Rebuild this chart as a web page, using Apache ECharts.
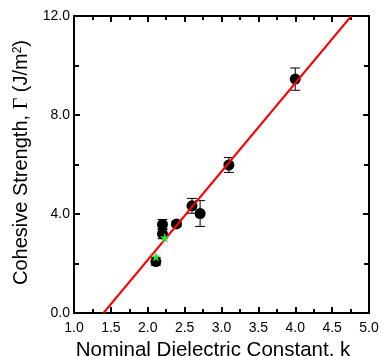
<!DOCTYPE html>
<html>
<head>
<meta charset="utf-8">
<script src="https://cdn.jsdelivr.net/npm/echarts@6/dist/echarts.min.js"></script>
<style>
  html, body { margin: 0; padding: 0; background: #fff; }
  #chart { width: 382px; height: 356px; }
</style>
</head>
<body>
<div id="chart"></div>
<script>
// measured cohesive strength: dielectric constant k, strength, error half-width
const kValues = [2.11, 2.2, 2.2, 2.39, 2.6, 2.71, 3.1, 4.0];
const strength = [2.08, 3.2, 3.58, 3.6, 4.33, 4.02, 5.98, 9.45];
const errHalf = [0.15, 0.2, 0.2, 0.1, 0.3, 0.52, 0.3, 0.45];

// green star markers
const starK = [2.11, 2.23];
const starStrength = [2.28, 3.04];

// linear fit endpoints
const fitK = [1.4, 4.76];
const fitStrength = [0, 12];

const X_TICKS = { min: 1, max: 5, interval: 0.5 };
const Y_TICKS = { min: 0, max: 12, interval: 4 };

const FONT = 'Liberation Sans, Arial, sans-serif';
const STAR = 'path://M50,0 L61,35 L98,35 L68,57 L79,91 L50,70 L21,91 L32,57 L2,35 L39,35 Z';

const chart = echarts.init(document.getElementById('chart'));

const axisCommon = {
  type: 'value',
  axisLine: { show: true, onZero: false, lineStyle: { color: '#000', width: 2 } },
  axisTick: { show: true, inside: true, length: 6, lineStyle: { color: '#000', width: 2 } },
  minorTick: { show: true, splitNumber: 2, length: 5, lineStyle: { color: '#000', width: 2 } },
  splitLine: { show: false },
};

chart.setOption({
  animation: false,
  backgroundColor: '#fff',
  grid: { left: 74, right: 13, top: 16, bottom: 43, containLabel: false, outerBoundsMode: 'none' },
  xAxis: [
    {
      ...axisCommon,
      min: X_TICKS.min, max: X_TICKS.max, interval: X_TICKS.interval,
      position: 'bottom',
      minorTick: { ...axisCommon.minorTick, length: 4 },
      axisLabel: { color: '#000', fontFamily: FONT, fontSize: 14, margin: 8, formatter: v => v.toFixed(1) },
      name: 'Nominal Dielectric Constant, k',
      nameLocation: 'middle',
      nameGap: 25,
      nameTextStyle: { color: '#000', fontFamily: FONT, fontSize: 20.5, padding: [0, 17, 0, 0] },
    },
    {
      ...axisCommon,
      min: X_TICKS.min, max: X_TICKS.max, interval: X_TICKS.interval,
      position: 'top',
      minorTick: { ...axisCommon.minorTick, length: 4 },
      axisLabel: { show: false },
    },
  ],
  yAxis: [
    {
      ...axisCommon,
      min: Y_TICKS.min, max: Y_TICKS.max, interval: Y_TICKS.interval,
      position: 'left',
      axisLabel: { color: '#000', fontFamily: FONT, fontSize: 14, margin: 4, formatter: v => v.toFixed(1) },
      name: '{a|Cohesive Strength, }{g|Γ}{a| (J/m}{s|2}{a|)}',
      nameLocation: 'middle',
      nameGap: 39,
      nameTextStyle: {
        color: '#000',
        padding: [0, 0, 0, 4],
        rich: {
          a: { fontFamily: FONT, fontSize: 20, color: '#000' },
          g: { fontFamily: 'Liberation Serif, serif', fontSize: 20, color: '#000' },
          s: { fontFamily: FONT, fontSize: 12, color: '#000', verticalAlign: 'top', padding: [0, 0, 8, 0] },
        },
      },
    },
    {
      ...axisCommon,
      min: Y_TICKS.min, max: Y_TICKS.max, interval: Y_TICKS.interval,
      position: 'right',
      axisLabel: { show: false },
    },
  ],
  series: [
    {
      type: 'line',
      data: fitK.map((k, i) => [k, fitStrength[i]]),
      symbol: 'none',
      lineStyle: { color: '#ff0000', width: 2 },
      z: 4,
    },
    {
      type: 'custom',
      data: kValues.map((k, i) => [k, strength[i] - errHalf[i], strength[i] + errHalf[i]]),
      renderItem: (params, api) => {
        const lo = api.coord([api.value(0), api.value(1)]);
        const hi = api.coord([api.value(0), api.value(2)]);
        const w = 5;
        const style = { stroke: '#000', lineWidth: 1 };
        return {
          type: 'group',
          children: [
            { type: 'line', shape: { x1: lo[0], y1: lo[1], x2: hi[0], y2: hi[1] }, style },
            { type: 'line', shape: { x1: lo[0] - w, y1: lo[1], x2: lo[0] + w, y2: lo[1] }, style },
            { type: 'line', shape: { x1: hi[0] - w, y1: hi[1], x2: hi[0] + w, y2: hi[1] }, style },
          ],
        };
      },
      z: 2,
    },
    {
      type: 'scatter',
      data: kValues.map((k, i) => [k, strength[i]]),
      symbol: 'circle',
      symbolSize: 11,
      itemStyle: { color: '#000', opacity: 1 },
      z: 3,
    },
    {
      type: 'scatter',
      data: starK.map((k, i) => [k, starStrength[i]]),
      symbol: STAR,
      symbolSize: 10,
      itemStyle: { color: '#33dd33', opacity: 1 },
      z: 5,
    },
  ],
});
</script>
</body>
</html>
